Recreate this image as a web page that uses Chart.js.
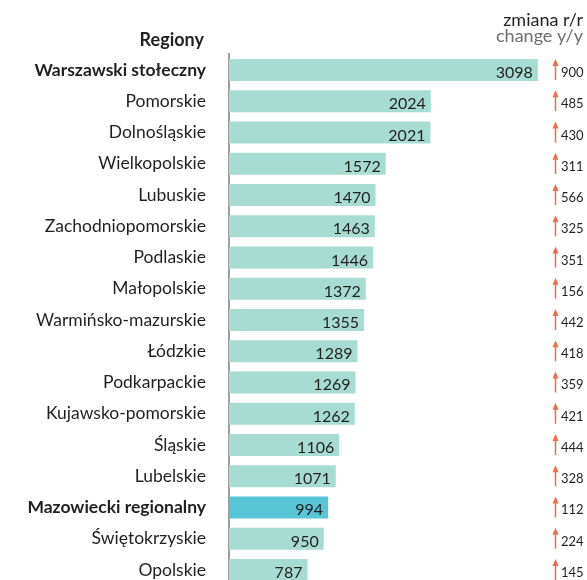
<!DOCTYPE html>
<html>
<head>
<meta charset="utf-8">
<script src="https://cdn.jsdelivr.net/npm/chart.js@4"></script>
<style>
  html, body { margin: 0; padding: 0; background: #fff; overflow: hidden; }
  #wrap { position: relative; width: 587px; height: 580px; overflow: hidden; }
  #regionChart { position: absolute; left: 0; top: 0; }
</style>
</head>
<body>
<div id="wrap"><canvas id="regionChart" width="587" height="600"></canvas></div>
<script>
const regions = [
  'Warszawski stołeczny', 'Pomorskie', 'Dolnośląskie', 'Wielkopolskie', 'Lubuskie',
  'Zachodniopomorskie', 'Podlaskie', 'Małopolskie', 'Warmińsko-mazurskie', 'Łódzkie',
  'Podkarpackie', 'Kujawsko-pomorskie', 'Śląskie', 'Lubelskie', 'Mazowiecki regionalny',
  'Świętokrzyskie', 'Opolskie'
];
const values = [3098, 2024, 2021, 1572, 1470, 1463, 1446, 1372, 1355, 1289, 1269, 1262, 1106, 1071, 994, 950, 787];
const changes = [900, 485, 430, 311, 566, 325, 351, 156, 442, 418, 359, 421, 444, 328, 112, 224, 145];
const boldRegions = ['Warszawski stołeczny', 'Mazowiecki regionalny'];

const FONT = 'Lato, "Noto Sans", sans-serif';
const TEXT = '#231f20';

// napisy na słupkach, strzałki zmian r/r i nagłówki kolumn
const extras = {
  id: 'extras',
  afterDatasetsDraw(chart) {
    const ctx = chart.ctx;
    const meta = chart.getDatasetMeta(0);
    const yScale = chart.scales.y;
    ctx.save();
    meta.data.forEach((bar, i) => {
      const y = yScale.getPixelForValue(i);
      ctx.font = '16px ' + FONT;
      ctx.fillStyle = TEXT;
      ctx.textAlign = 'right';
      ctx.textBaseline = 'alphabetic';
      ctx.fillText(values[i], bar.x - 5, y + 8);

      // strzałka w górę
      const ax = 555.5;
      ctx.strokeStyle = '#f26a4b';
      ctx.fillStyle = '#f26a4b';
      ctx.lineWidth = 1.5;
      ctx.beginPath();
      ctx.moveTo(ax, y - 6);
      ctx.lineTo(ax, y + 10);
      ctx.stroke();
      ctx.beginPath();
      ctx.moveTo(ax, y - 11);
      ctx.lineTo(ax - 3, y - 4);
      ctx.lineTo(ax + 3, y - 4);
      ctx.closePath();
      ctx.fill();

      ctx.font = '13px ' + FONT;
      ctx.fillStyle = TEXT;
      ctx.textAlign = 'left';
      ctx.fillText(changes[i], 561, y + 7);
    });

    ctx.textAlign = 'right';
    ctx.textBaseline = 'alphabetic';
    ctx.font = '18px ' + FONT;
    ctx.fillStyle = TEXT;
    ctx.fillText('zmiana r/r', 583, 26);
    ctx.fillStyle = '#6d6e71';
    ctx.fillText('change y/y', 583, 42);
    ctx.font = 'bold 18px ' + FONT;
    ctx.fillStyle = TEXT;
    ctx.fillText('Regiony', 204, 46);
    ctx.restore();
  }
};

new Chart(document.getElementById('regionChart'), {
  type: 'bar',
  data: {
    labels: regions,
    datasets: [{
      data: values,
      backgroundColor: regions.map(r => r === 'Mazowiecki regionalny' ? '#57c5d5' : '#a7dcd3'),
      categoryPercentage: 1,
      barPercentage: 0.7
    }]
  },
  options: {
    indexAxis: 'y',
    responsive: false,
    animation: false,
    // płótno jest wyższe niż okno, ostatni wiersz jest ucięty
    layout: { padding: { top: 54.4, right: 49, bottom: 14.4, left: 0 } },
    plugins: { legend: { display: false }, tooltip: { enabled: false } },
    scales: {
      x: { display: false, min: 0, max: 3100 },
      y: {
        afterFit(scale) { scale.width = 229; },
        // niewidoczne kreski podziałki odsuwają etykiety od osi
        grid: { display: true, drawOnChartArea: false, drawTicks: true, tickLength: 23, tickColor: 'rgba(0,0,0,0)' },
        border: { display: true, color: '#9d9d9d', width: 2 },
        ticks: {
          padding: 0,
          color: TEXT,
          font: ctx => ({
            family: FONT,
            size: 17.5,
            weight: boldRegions.includes(regions[ctx.index]) ? 'bold' : 'normal'
          })
        }
      }
    }
  },
  plugins: [extras]
});
</script>
</body>
</html>
